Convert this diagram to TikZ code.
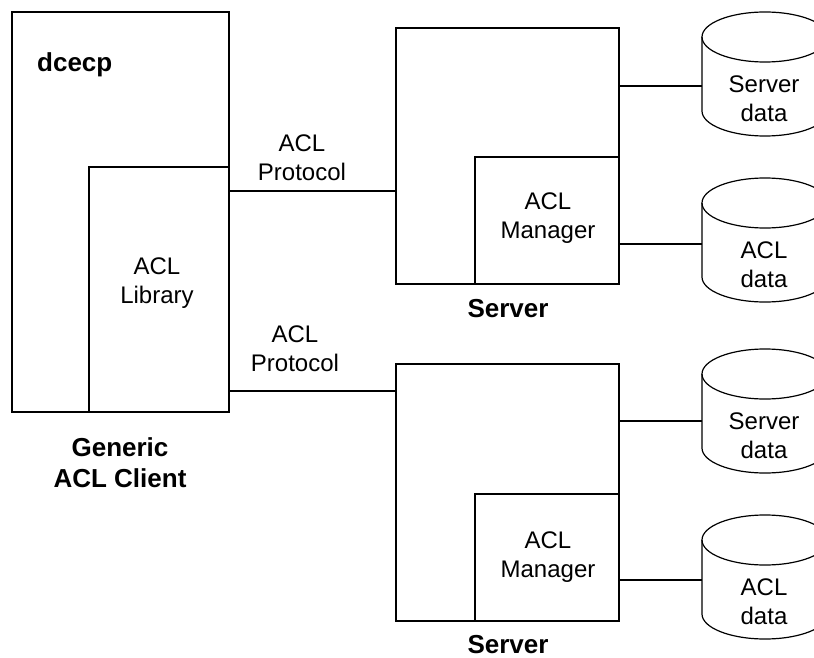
\documentclass[tikz,border=0pt]{standalone}
\usepackage{fontspec}
\setmainfont{Liberation Sans}
\tikzset{
  box/.style={draw,line width=1.2pt,inner sep=0pt,outer sep=0pt,anchor=north west},
  wire/.style={line width=1.2pt},
  db/.style={line width=1.2pt},
  lbl/.style={font=\fontsize{24}{29}\selectfont,align=center,inner sep=0pt},
  head/.style={font=\fontsize{26}{31}\selectfont\bfseries,align=center,inner sep=0pt}
}
\begin{document}
\begin{tikzpicture}[x=1pt,y=-1pt]
\useasboundingbox (0,0) rectangle (814,658);
\clip (0,0) rectangle (814,658);
% generischer Client
\node[box,minimum width=217pt,minimum height=400pt] (client) at (12,12) {};
\node[box,minimum width=140pt,minimum height=245pt] (lib) at (89,167) {};
\node[head,anchor=base west] (dcecp) at (37,72) {dcecp};
\node[lbl] (libtxt) at (157,283.4) {ACL\\Library};
\node[head] (clienttxt) at (120,463.2) {Generic\\ACL Client};
% Server oben/unten
\node[box,minimum width=223pt,minimum height=256pt] (srvA) at (396,28) {};
\node[box,minimum width=144pt,minimum height=127pt] (mgrA) at (475,157) {};
\node[box,minimum width=223pt,minimum height=257pt] (srvB) at (396,364) {};
\node[box,minimum width=144pt,minimum height=127pt] (mgrB) at (475,494) {};
\node[lbl] (mgrAtxt) at (548,218.4) {ACL\\Manager};
\node[lbl] (mgrBtxt) at (548,557.4) {ACL\\Manager};
\node[head,anchor=base] (srvAtxt) at (508,317) {Server};
\node[head,anchor=base] (srvBtxt) at (508,653) {Server};
% Datenbanken
\foreach \n/\t/\txt/\l in {sdA/12/Server/74,adA/178/ACL/66,sdB/349/Server/72,adB/515/ACL/65}{
  \draw[db] (702,\t+25) -- (702,\t+99) arc[start angle=180,end angle=360,x radius=63pt,y radius=25pt] -- (828,\t+25);
  \draw[db] (765,\t+25) ellipse[x radius=63pt,y radius=25pt];
  \node[lbl] (\n) at (764,\t+87) {\txt\\data};
  \coordinate (\n-in) at (702,\t+\l);
}
% Protokoll-Verbindungen
\coordinate (pA) at (396,191);
\coordinate (pB) at (396,391);
\draw[wire] (client.east |- pA) -- (srvA.west |- pA);
\draw[wire] (client.east |- pB) -- (srvB.west |- pB);
\node[lbl] (protA) at (302,158) {ACL\\Protocol};
\node[lbl] (protB) at (295,349) {ACL\\Protocol};
\draw[wire] (srvA.east |- sdA-in) -- (sdA-in);
\draw[wire] (srvA.east |- adA-in) -- (adA-in);
\draw[wire] (srvB.east |- sdB-in) -- (sdB-in);
\draw[wire] (srvB.east |- adB-in) -- (adB-in);
\end{tikzpicture}
\end{document}
